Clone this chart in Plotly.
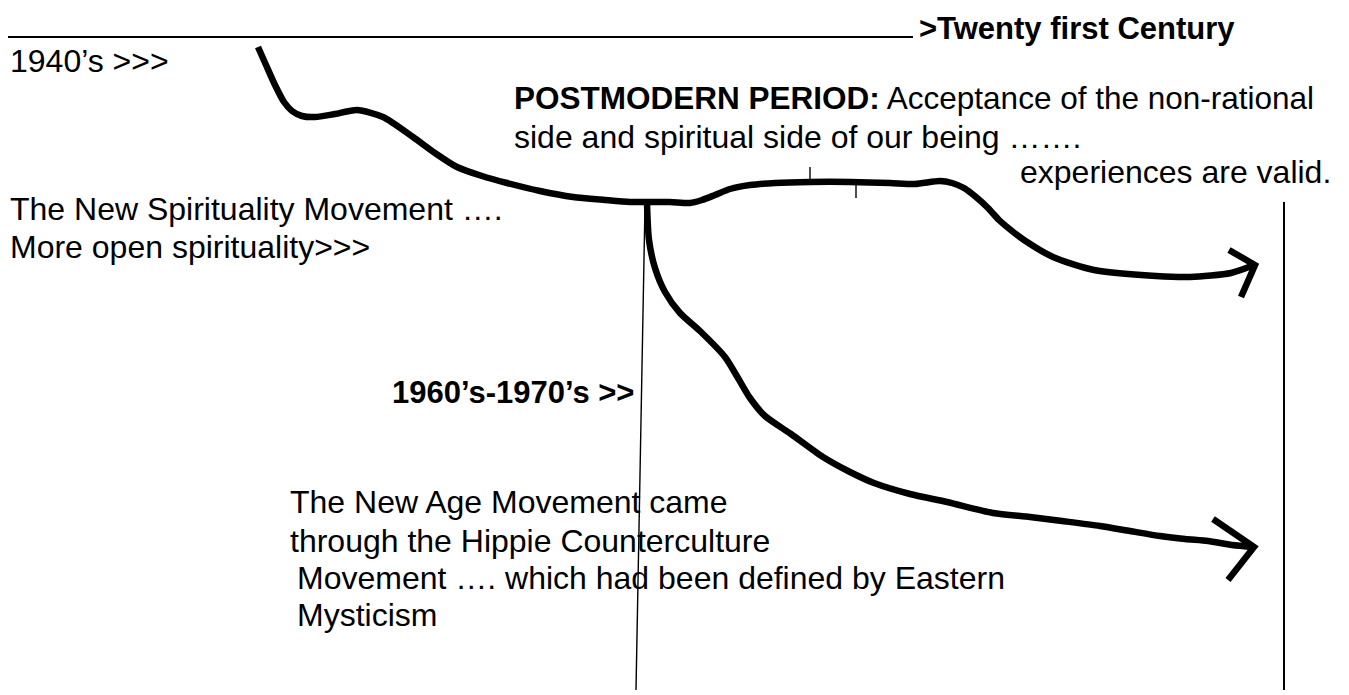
import plotly.graph_objects as go

# ---- diagram data (page pixel coordinates: x to the right, y downward) ----
main_x = [258, 266, 275, 284, 292, 302, 315, 335, 357, 383,
          413, 435, 457, 482, 507, 540, 573, 605, 630, 647,
          670, 690, 702, 715, 730, 750, 775, 810, 850, 890,
          915, 940, 952, 964, 976, 988, 999, 1012, 1024, 1053,
          1094, 1156, 1190, 1231, 1254]
main_y = [47, 65, 85, 102, 111, 116, 117, 114, 110, 117,
          137, 153, 167, 176, 183, 191, 197, 200, 202, 202,
          202, 203, 200, 195, 189, 185, 183, 182, 182, 183,
          184, 181, 183, 188, 197, 208, 220, 231, 240, 257,
          270, 276, 277, 273, 265]

branch_x = [647, 649, 655, 665, 680, 700, 725, 738, 750, 765,
            791, 823, 850, 874, 910, 947, 993, 1030, 1062, 1100,
            1130, 1160, 1185, 1208, 1232, 1254]
branch_y = [203, 240, 268, 292, 313, 331, 357, 378, 398, 416,
            434, 457, 472, 483, 494, 502, 513, 517, 521, 526,
            531, 536, 539, 541, 545, 547]

head1_x = [1229, 1255, 1241]
head1_y = [250, 265, 297]
head2_x = [1213, 1254, 1228]
head2_y = [519, 547, 580]

rule_x = [8, 913]
rule_y = [37, 37]
stem_x = [645, 636]
stem_y = [205, 690]
edge_x = [1284, 1284]
edge_y = [202, 690]
tick_x = [[810, 810], [856, 856]]
tick_y = [[167, 179], [185, 198]]

# text labels: (text, x, y, anchor, size)
labels = [
    ("1940’s >>>", 8, 61, "left", 32),
    ("<b>>Twenty first Century</b>", 917, 28, "left", 31),
    ("<b>POSTMODERN PERIOD:</b> Acceptance of the non-rational", 512, 98, "left", 31.5),
    ("side and spiritual side of our being …….", 512, 137, "left", 32),
    ("experiences are valid.", 1333, 172, "right", 32),
    ("The New Spirituality Movement ….", 8, 209, "left", 32),
    ("More open spirituality>>>", 8, 247, "left", 32),
    ("<b>1960’s-1970’s >></b>", 636, 392, "right", 31),
    ("The New Age Movement came", 288, 502, "left", 32),
    ("through the Hippie Counterculture", 288, 541, "left", 32),
    ("Movement …. which had been defined by Eastern", 295, 578, "left", 32),
    ("Mysticism", 295, 615, "left", 32),
]

PAGE_W, PAGE_H = 1349, 695
PAD = 8  # default page margin of the html body
FONT = "Liberation Sans, Arial, sans-serif"

fig = go.Figure()

def add_curve(xs, ys, width):
    fig.add_trace(go.Scatter(x=xs, y=ys, mode="lines",
                             line=dict(color="black", width=width, shape="spline", smoothing=0.7),
                             hoverinfo="skip", showlegend=False))

def add_straight(xs, ys, width):
    fig.add_trace(go.Scatter(x=xs, y=ys, mode="lines",
                             line=dict(color="black", width=width),
                             hoverinfo="skip", showlegend=False))

add_straight(rule_x, rule_y, 1.8)
add_straight(stem_x, stem_y, 1.4)
add_straight(edge_x, edge_y, 2)
for tx, ty in zip(tick_x, tick_y):
    add_straight(tx, ty, 1.4)
add_curve(main_x, main_y, 6.5)
add_curve(branch_x, branch_y, 6.5)
add_straight(head1_x, head1_y, 6.5)
add_straight(head2_x, head2_y, 6.5)

for text, x, y, anchor, size in labels:
    fig.add_annotation(x=x, y=y, xref="x", yref="y", text=text, showarrow=False,
                       xanchor=anchor, yanchor="middle",
                       font=dict(family=FONT, size=size, color="black"))

fig.update_xaxes(range=[PAD, PAGE_W], visible=False, fixedrange=True)
fig.update_yaxes(range=[PAGE_H, PAD], visible=False, fixedrange=True)
fig.update_layout(width=PAGE_W - PAD, height=PAGE_H - PAD,
                  margin=dict(l=0, r=0, t=0, b=0),
                  paper_bgcolor="white", plot_bgcolor="white")

fig.write_html("out.html", config={"displayModeBar": False})
